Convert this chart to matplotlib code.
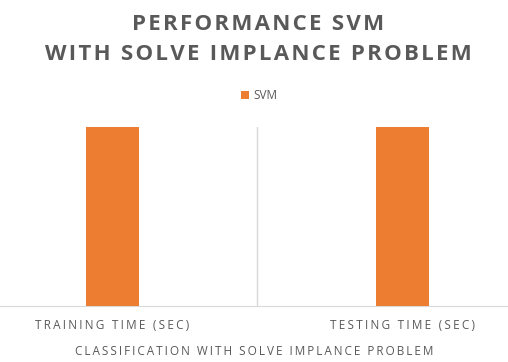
import matplotlib
matplotlib.use("Agg")
import matplotlib.pyplot as plt

categories = ["TRAINING TIME (SEC)", "TESTING TIME (SEC)"]
svm_values = [1.0, 1.0]
series_name = "SVM"
title_lines = ["PERFORMANCE SVM", "WITH SOLVE IMPLANCE PROBLEM"]
xlabel = "CLASSIFICATION WITH SOLVE IMPLANCE PROBLEM"

orange = "#ED7D31"
grey = "#595959"

plt.rcParams["font.family"] = ["Open Sans", "DejaVu Sans"]


def spaced(s, sep="\u200a"):
    # fake letter spacing with hair spaces
    return sep.join(s)


fig = plt.figure(figsize=(5.08, 3.62), dpi=100)
ax = fig.add_axes([0, 0.1547, 1, 0.4945])

x = list(range(len(categories)))
ax.bar(x, svm_values, width=0.183, color=orange, label=series_name, zorder=3)

ax.set_xlim(-0.388, 1.364)
ax.set_ylim(0, 1.0)
ax.axvline(0.5, color="#D9D9D9", lw=1, zorder=1)

for s in ["top", "left", "right"]:
    ax.spines[s].set_visible(False)
ax.spines["bottom"].set_color("#D9D9D9")
ax.set_yticks([])
ax.set_xticks(x)
ax.set_xticklabels([spaced(c, "\u200a" * 2) for c in categories],
                   fontsize=8.5, color=grey)
ax.tick_params(axis="x", length=0, pad=9.5)
ax.set_xlabel(spaced(xlabel, "\u2009"), fontsize=8.5, color=grey, labelpad=9.5)

title = "\n".join(spaced(t) for t in title_lines)
fig.text(0.508, 0.891, title, ha="center", va="center", fontsize=16,
         fontweight="bold", color=grey, linespacing=1.55)

fig.legend(loc="center", bbox_to_anchor=(0.51, 0.735), frameon=False,
           fontsize=8.5, labelcolor=grey, handlelength=0.7, handleheight=0.7,
           handletextpad=0.4)

fig.savefig("out.png", dpi=100)
